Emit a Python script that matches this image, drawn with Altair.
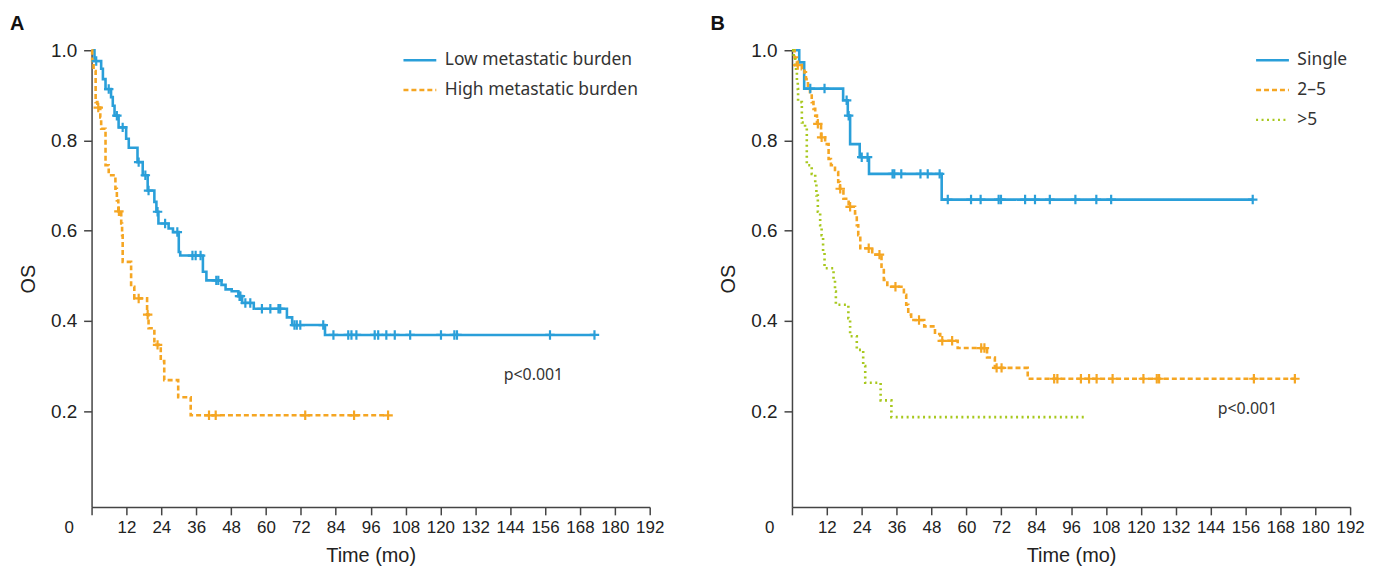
import altair as alt
import pandas as pd
import numpy as np

# ---------------- Panel A ----------------
a_groups = ["Low metastatic burden", "High metastatic burden"]
a_low_t = [0, 1.0, 3.3, 3.9, 4.8, 6.7, 7.3, 7.9, 9.3, 11.9, 12.8, 15.8, 17.6, 19.3, 21.6, 22.3, 23.0,
           26.5, 28.0, 30.0, 30.5, 38.3, 39.5, 44.7, 46.1, 48.2, 50.5, 51.8, 55.8, 67.2, 69.0, 80.3]
a_low_s = [1.0, 0.976, 0.959, 0.936, 0.914, 0.896, 0.877, 0.855, 0.829, 0.804, 0.784, 0.752, 0.723, 0.689,
           0.664, 0.642, 0.616, 0.605, 0.597, 0.553, 0.545, 0.509, 0.490, 0.480, 0.470, 0.466, 0.455, 0.440,
           0.427, 0.408, 0.391, 0.369]
a_low_end = 173
a_low_cens = [1.6, 5.9, 8.7, 10.7, 16.2, 18.5, 19.6, 22.7, 25.3, 29.5, 34.7, 35.8, 37.5, 42.9, 43.6, 50.9,
              51.2, 52.9, 54.6, 58.6, 61.5, 64.3, 64.9, 69.8, 70.6, 71.8, 79.7, 83.2, 88.3, 89.4, 91.1,
              97.4, 98.6, 101.4, 104.3, 109.6, 120.2, 124.8, 125.7, 157.7, 173.0]

a_high_t = [0, 0.2, 0.7, 1.4, 2.0, 3.0, 3.3, 4.8, 5.9, 8.2, 8.7, 9.2, 10.2, 10.5, 10.7, 13.6, 14.7, 19.1,
            19.6, 21.6, 23.8, 25.0, 29.8, 34.1]
a_high_s = [1.0, 0.976, 0.954, 0.885, 0.873, 0.851, 0.826, 0.745, 0.723, 0.693, 0.667, 0.643, 0.616, 0.590,
            0.531, 0.476, 0.450, 0.414, 0.384, 0.347, 0.311, 0.269, 0.231, 0.191]
a_high_end = 102
a_high_cens = [2.3, 9.4, 16.2, 19.3, 22.7, 40.4, 42.7, 73.5, 90.3, 102.0]

# ---------------- Panel B ----------------
b_groups = ["Single", "2\u20135", ">5"]
b_single_t = [0, 2.5, 4.2, 17.6, 19.2, 20.0, 23.3, 26.5, 51.5]
b_single_s = [1.0, 0.973, 0.915, 0.889, 0.855, 0.792, 0.763, 0.726, 0.669]
b_single_end = 158.5
b_single_cens = [6.3, 11.2, 18.8, 19.5, 24.0, 26.0, 34.6, 35.2, 37.6, 44.2, 46.7, 50.8, 53.6, 61.6, 64.9,
                 71.1, 71.9, 80.2, 83.6, 88.7, 97.5, 104.7, 109.8, 158.5]

b_mid_t = [0, 0.9, 1.7, 3.4, 4.3, 4.8, 5.5, 6.2, 6.8, 7.4, 8.0, 8.6, 10.0, 11.4, 12.6, 13.4, 14.8, 15.9,
           16.5, 17.7, 19.5, 21.7, 22.3, 22.8, 23.5, 27.6, 30.8, 31.6, 32.8, 38.5, 39.3, 40.0, 41.0, 45.5,
           49.2, 51.0, 57.0, 67.1, 69.8, 81.1]
b_mid_s = [1.0, 0.984, 0.967, 0.958, 0.951, 0.936, 0.914, 0.907, 0.885, 0.870, 0.855, 0.837, 0.807, 0.792,
           0.759, 0.745, 0.730, 0.708, 0.693, 0.671, 0.653, 0.638, 0.612, 0.590, 0.561, 0.547, 0.517, 0.491,
           0.476, 0.458, 0.436, 0.414, 0.402, 0.388, 0.371, 0.356, 0.340, 0.319, 0.296, 0.272]
b_mid_end = 173
b_mid_cens = [2.0, 8.9, 10.2, 16.6, 20.0, 26.4, 30.1, 35.6, 43.7, 51.7, 55.1, 65.1, 66.2, 70.4, 72.1,
              90.2, 91.3, 99.4, 102.2, 104.8, 110.3, 120.9, 125.5, 126.3, 158.9, 173.0]

b_high_t = [0, 0.6, 1.1, 1.4, 1.7, 2.0, 2.1, 3.4, 4.5, 5.1, 6.8, 8.0, 8.4, 8.9, 9.7, 10.2, 10.7, 11.2,
            14.3, 14.8, 15.1, 19.4, 20.0, 22.3, 24.5, 25.2, 30.5, 34.2]
b_high_s = [1.0, 0.984, 0.967, 0.951, 0.929, 0.914, 0.885, 0.840, 0.829, 0.745, 0.726, 0.704, 0.678, 0.642,
            0.612, 0.590, 0.553, 0.517, 0.491, 0.465, 0.436, 0.406, 0.366, 0.336, 0.300, 0.263, 0.224, 0.187]
b_high_end = 101.5
b_high_cens = []

# annotations: (time, survival) anchor for the p-value text
a_pval = [152, 0.28]
b_pval = [156.7, 0.205]
pval_text = "p<0.001"

x_ticks = list(range(0, 193, 12))
y_ticks = [0.2, 0.4, 0.6, 0.8, 1.0]

BLUE = "#2a9fd9"
ORANGE = "#f5a623"
GREEN = "#a8c81e"
CROSS = "M0,-1L0,1M-1,0L1,0"


def build(groups, series):
    rows, crows = [], []
    for g, (t, s, end, cens) in zip(groups, series):
        tt = list(t) + [end]
        ss = list(s) + [s[-1]]
        for i, (a, b) in enumerate(zip(tt, ss)):
            rows.append({"group": g, "t": a, "S": b, "o": i})
        tarr = np.array(t)
        for c in cens:
            idx = int(np.searchsorted(tarr, c, side="right") - 1)
            crows.append({"group": g, "t": c, "S": s[idx]})
    return pd.DataFrame(rows), pd.DataFrame(crows, columns=["group", "t", "S"])


def panel(letter, groups, colors, dashes, series, pval, legend_x):
    line_df, cens_df = build(groups, series)
    xs = alt.Scale(domain=[0, 192], nice=False, zero=False)
    ys = alt.Scale(domain=[-0.012, 1.0], nice=False, zero=False)
    cs = alt.Scale(domain=groups, range=colors)
    ds = alt.Scale(domain=groups, range=dashes)
    leg = alt.Legend(title=None, orient="none", legendX=legend_x, legendY=1,
                     symbolType="stroke", symbolSize=1089, symbolStrokeWidth=2.5,
                     labelFont="Noto Sans", labelFontSize=17.5, labelColor="#333333",
                     labelLimit=0, labelOffset=7, rowPadding=12, clipHeight=18, padding=0)
    x_axis = alt.Axis(
        values=x_ticks, title="Time (mo)", labelFlush=False, labelOverlap=False,
        labelFont="Liberation Sans", labelFontSize=17, labelPadding=5,
        labelOffset={"condition": {"test": "datum.value === 0", "value": -23}, "value": 0},
        titlePadding=10)
    y_axis = alt.Axis(
        values=y_ticks, format=".1f", title="OS", labelOverlap=False,
        labelFontSize=19, labelPadding=7, titlePadding=12)
    x_enc = alt.X("t:Q", scale=xs, axis=x_axis)
    y_enc = alt.Y("S:Q", scale=ys, axis=y_axis)
    lines = alt.Chart(line_df).mark_line(interpolate="step-after", strokeWidth=2.6).encode(
        x=x_enc, y=y_enc,
        color=alt.Color("group:N", scale=cs, legend=leg),
        strokeDash=alt.StrokeDash("group:N", scale=ds, legend=leg),
        order="o:Q")
    layers = [lines]
    if len(cens_df):
        pts = alt.Chart(cens_df).mark_point(shape=CROSS, filled=False, size=90, strokeWidth=2.2,
                                            opacity=1).encode(
            x=x_enc, y=y_enc,
            color=alt.Color("group:N", scale=cs, legend=None))
        layers.append(pts)
    ann = alt.Chart(pd.DataFrame({"t": [pval[0]], "S": [pval[1]], "label": [pval_text]})).mark_text(
        font="Noto Sans", fontSize=16, color="#333333").encode(
        x=x_enc, y=y_enc, text="label:N")
    layers.append(ann)
    return alt.layer(*layers).properties(
        width=561, height=459,
        title=alt.TitleParams(letter, anchor="start", frame="group", dx=-82, offset=7,
                              font="Liberation Sans", fontSize=20, fontWeight="bold",
                              color="#111111"))


chart_a = panel("A", a_groups, [BLUE, ORANGE], [[1, 0], [5, 3]],
                [(a_low_t, a_low_s, a_low_end, a_low_cens),
                 (a_high_t, a_high_s, a_high_end, a_high_cens)], a_pval, 312)
chart_b = panel("B", b_groups, [BLUE, ORANGE, GREEN], [[1, 0], [5, 3], [2, 3.5]],
                [(b_single_t, b_single_s, b_single_end, b_single_cens),
                 (b_mid_t, b_mid_s, b_mid_end, b_mid_cens),
                 (b_high_t, b_high_s, b_high_end, b_high_cens)], b_pval, 465)

chart = alt.hconcat(chart_a, chart_b, spacing=46).resolve_scale(
    color="independent", strokeDash="independent", x="independent", y="independent"
).resolve_legend(color="independent", strokeDash="independent").properties(
    padding={"left": 2, "top": 5, "right": 5, "bottom": 5}
).configure_view(
    stroke=None).configure_axis(
    grid=False, domainColor="#444444", domainWidth=1.5, tickColor="#444444", tickWidth=1.5,
    tickSize=8, labelFont="Liberation Sans", labelColor="#222222", labelOverlap=False,
    titleFont="Liberation Sans", titleFontSize=20, titleFontWeight="normal", titleColor="#222222")

chart.save("out.html", embed_options={"renderer": "svg", "actions": False})
